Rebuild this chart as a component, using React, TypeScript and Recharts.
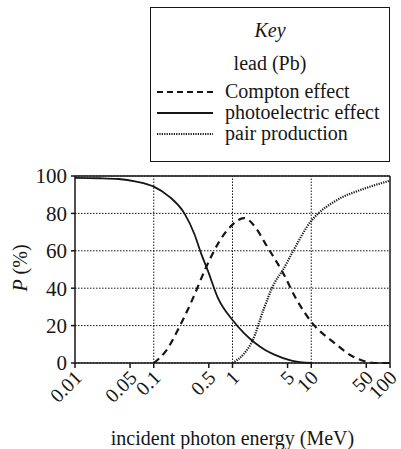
import React from 'react';
import { LineChart, Line, XAxis, YAxis, CartesianGrid, ReferenceLine } from 'recharts';

const FONT = '"Liberation Serif", "Times New Roman", Tinos, "DejaVu Serif", "Noto Serif", serif';
const INK = '#161616';

const X_TICKS = [0.01, 0.05, 0.1, 0.5, 1, 5, 10, 50, 100];
const Y_TICKS = [0, 20, 40, 60, 80, 100];

const photoE = [0.01, 0.02, 0.036, 0.06, 0.1, 0.157, 0.245, 0.328, 0.4, 0.485, 0.65, 1, 1.4, 1.9, 2.6, 3.4, 5.6, 10];
const photoP = [99, 98.8, 98.4, 97, 94.3, 89, 80, 69, 58.5, 49.5, 35, 23, 16, 11, 7, 4.5, 1.3, 0];

const comptonE = [0.1, 0.143, 0.21, 0.31, 0.46, 0.68, 1, 1.4, 2, 2.6, 4.4, 6.5, 10, 20, 32, 50, 70, 100];
const comptonP = [0, 6.5, 19, 34, 51, 65, 74, 77.5, 72, 64, 48, 34, 22, 10.5, 4, 0.7, 0, 0];

const pairE = [1, 1.4, 1.8, 2.45, 3.4, 4.4, 5.9, 10, 11.6, 20, 50, 100];
const pairP = [0, 5, 12, 28, 42.7, 50, 60, 76, 79, 86.5, 93.6, 97.5];

const toRows = (es: number[], ps: number[]) => es.map((e, i) => ({ e, p: ps[i] }));

const XTick = (props: any) => {
  const { x, y, payload } = props;
  return (
    <g transform={`translate(${x + 8},${y + 9})`}>
      <text
        x={0}
        y={0}
        textAnchor="end"
        transform="rotate(-45)"
        fill={INK}
        style={{ fontFamily: FONT, fontSize: 20 }}
      >
        {String(payload.value)}
      </text>
    </g>
  );
};

const legendRows = [
  { label: 'Compton effect', dash: '6 4', width: 2 },
  { label: 'photoelectric effect', dash: undefined, width: 1.8 },
  { label: 'pair production', dash: '1.2 1.2', width: 2.2 },
];

const App: React.FC = () => {
  return (
    <div
      style={{
        position: 'fixed',
        left: 0,
        top: 0,
        width: 401,
        height: 449,
        background: '#fff',
        fontFamily: FONT,
        color: INK,
      }}
    >
      <div
        style={{
          position: 'absolute',
          left: 150,
          top: 7,
          width: 238,
          height: 153,
          border: `1.5px solid ${INK}`,
        }}
      >
        <div style={{ position: 'absolute', top: 11, width: '100%', textAlign: 'center', fontStyle: 'italic', fontSize: 20 }}>
          Key
        </div>
        <div style={{ position: 'absolute', top: 44, width: '100%', textAlign: 'center', fontSize: 20 }}>
          lead (Pb)
        </div>
        {legendRows.map((r, i) => (
          <div key={r.label} style={{ position: 'absolute', top: 73 + i * 21, left: 4, display: 'flex', alignItems: 'center' }}>
            <svg width={60} height={20}>
              <line x1={2} y1={11} x2={58} y2={11} stroke={INK} strokeWidth={r.width} strokeDasharray={r.dash} />
            </svg>
            <span style={{ marginLeft: 10, fontSize: 20, lineHeight: '20px' }}>{r.label}</span>
          </div>
        ))}
      </div>

      <LineChart width={401} height={449} margin={{ top: 176, right: 11, left: 0, bottom: 0 }}>
        <CartesianGrid vertical={false} stroke={INK} strokeDasharray="1.5 1.5" strokeWidth={1} />
        <XAxis
          dataKey="e"
          type="number"
          scale="log"
          domain={[0.01, 100]}
          ticks={X_TICKS}
          allowDataOverflow
          height={86}
          stroke={INK}
          strokeWidth={1.5}
          tickSize={5}
          tick={<XTick />}
          interval={0}
          label={{ value: 'incident photon energy (MeV)', position: 'insideBottom', offset: 4, fill: INK, style: { fontFamily: FONT, fontSize: 20 } }}
        />
        <YAxis
          type="number"
          domain={[0, 100]}
          ticks={Y_TICKS}
          width={75}
          stroke={INK}
          strokeWidth={1.5}
          tickSize={4}
          tickMargin={4}
          tick={{ fill: INK, fontFamily: FONT, fontSize: 21 }}
        />
        {[0.1, 1, 10].map(v => (
          <ReferenceLine key={v} x={v} stroke={INK} strokeDasharray="1.5 1.5" strokeWidth={1} />
        ))}
        <ReferenceLine y={100} stroke={INK} strokeWidth={1.5} />
        <ReferenceLine x={100} stroke={INK} strokeWidth={1.5} />
        <Line data={toRows(photoE, photoP)} dataKey="p" type="monotone" stroke={INK} strokeWidth={1.8} dot={false} isAnimationActive={false} />
        <Line data={toRows(comptonE, comptonP)} dataKey="p" type="monotone" stroke={INK} strokeWidth={2.2} strokeDasharray="7 5" dot={false} isAnimationActive={false} />
        <Line data={toRows(pairE, pairP)} dataKey="p" type="monotone" stroke={INK} strokeWidth={2.2} strokeDasharray="1.2 1.2" dot={false} isAnimationActive={false} />
      </LineChart>

      <div
        style={{
          position: 'absolute',
          left: 20,
          top: 268,
          transform: 'translate(-50%, -50%) rotate(-90deg)',
          fontSize: 20,
          whiteSpace: 'nowrap',
        }}
      >
        <i>P</i> (%)
      </div>
    </div>
  );
};

export default App;
